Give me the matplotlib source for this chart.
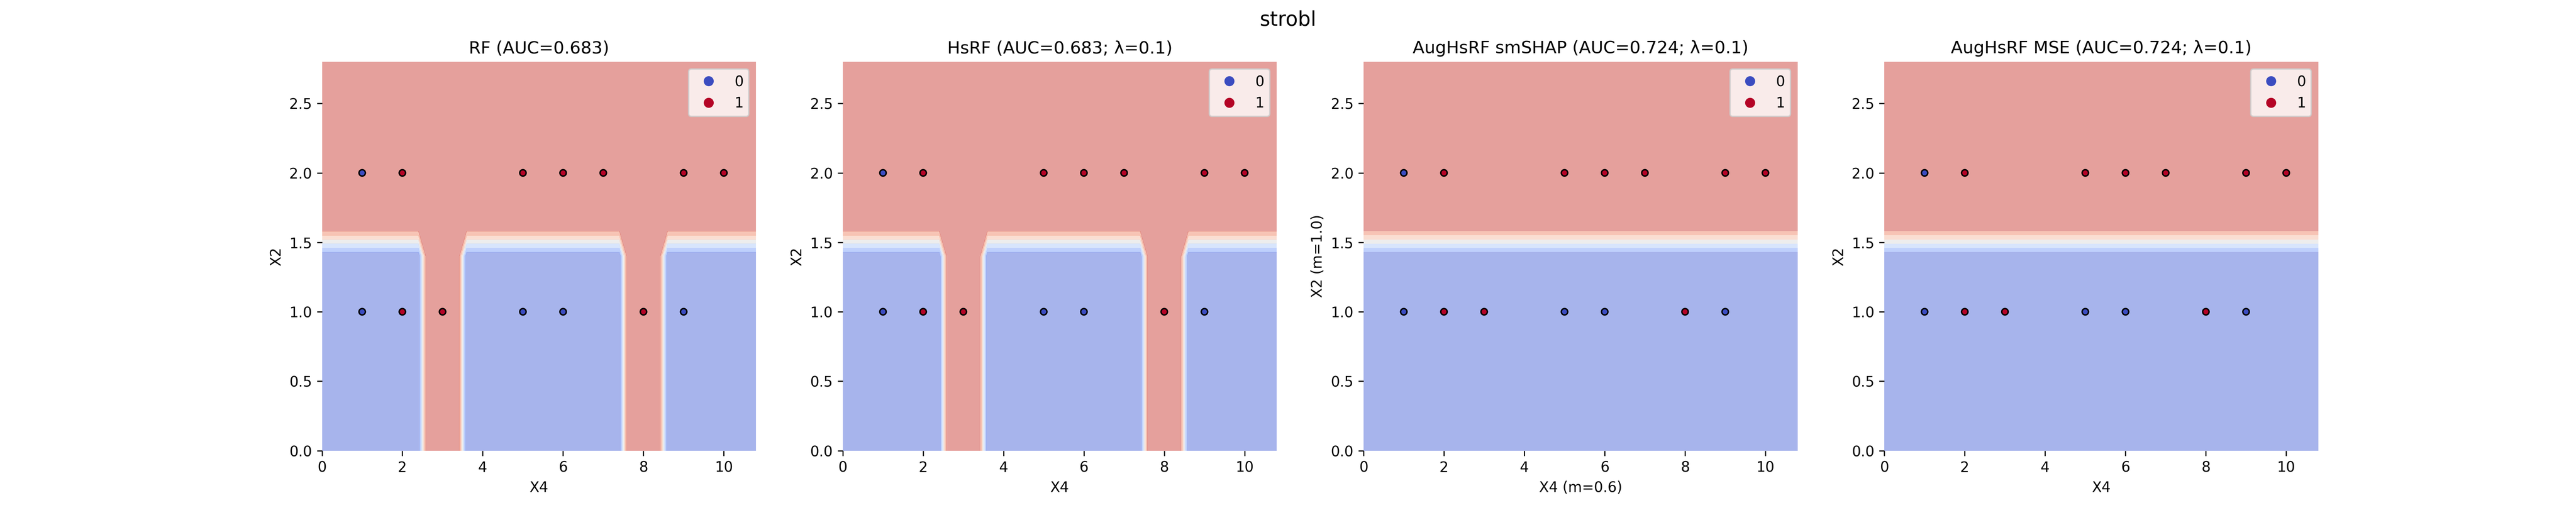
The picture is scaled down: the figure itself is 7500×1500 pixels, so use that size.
import numpy as np
import matplotlib
matplotlib.use("Agg")
import matplotlib.pyplot as plt

# observed samples
x4_values = [1, 2, 5, 6, 7, 9, 10, 1, 2, 3, 5, 6, 8, 9]
x2_values = [2, 2, 2, 2, 2, 2, 2, 1, 1, 1, 1, 1, 1, 1]
labels = [0, 1, 1, 1, 1, 1, 1, 0, 1, 1, 0, 0, 1, 0]

# decision surface
low_prob = 0.301
high_prob = 0.632
x2_split = 1.5
rf_x4_high_bands = [(2.5, 3.5), (7.5, 8.5)]
panel_bands = [rf_x4_high_bands, rf_x4_high_bands, [], []]

titles = [
    "RF (AUC=0.683)",
    "HsRF (AUC=0.683; λ=0.1)",
    "AugHsRF smSHAP (AUC=0.724; λ=0.1)",
    "AugHsRF MSE (AUC=0.724; λ=0.1)",
]
xlabels = ["X4", "X4", "X4 (m=0.6)", "X4"]
ylabels = ["X2", "X2", "X2 (m=1.0)", "X2"]
suptitle = "strobl"

grid_x = np.arange(0, 11, 0.2)
grid_y = np.arange(0, 3, 0.2)
xx, yy = np.meshgrid(grid_x, grid_y)

fig, axes = plt.subplots(1, 4, figsize=(25, 5))
fig.subplots_adjust(bottom=0.125)
for ax, title, xl, yl, bands in zip(axes, titles, xlabels, ylabels, panel_bands):
    high = yy >= x2_split
    for lo, hi in bands:
        high |= (xx > lo) & (xx < hi)
    zz = np.where(high, high_prob, low_prob)
    ax.contourf(xx, yy, zz, cmap="coolwarm", alpha=0.5)
    sc = ax.scatter(x4_values, x2_values, c=labels, cmap="coolwarm",
                    edgecolors="k", s=20, linewidths=1)
    ax.legend(*sc.legend_elements(), loc="upper right")
    ax.set_title(title)
    ax.set_xlabel(xl)
    ax.set_ylabel(yl)
    for spine in ax.spines.values():
        spine.set_visible(False)
fig.suptitle(suptitle, fontsize=14)
fig.savefig("out.png", dpi=300)
